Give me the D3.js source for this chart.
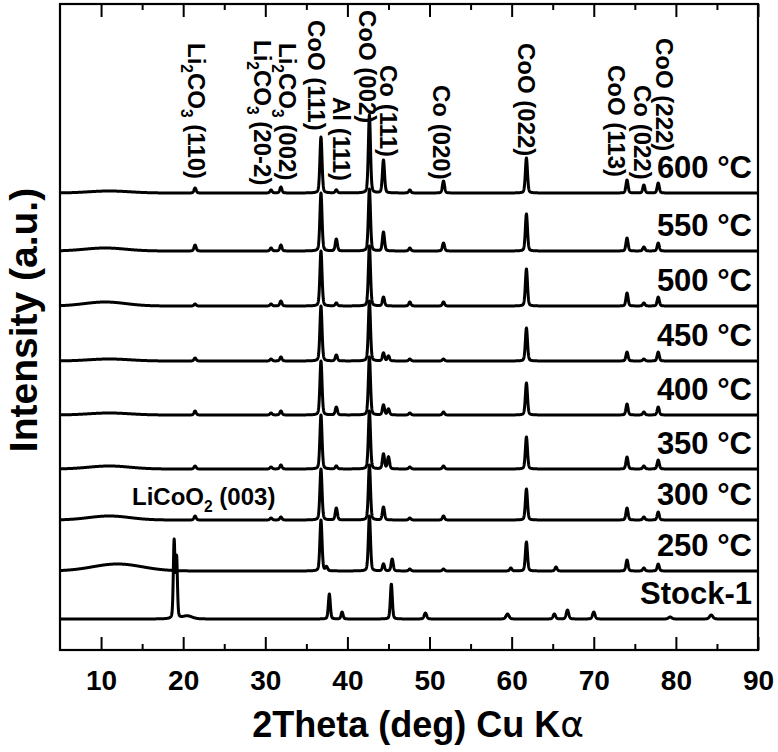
<!DOCTYPE html>
<html><head><meta charset="utf-8">
<script src="https://cdn.jsdelivr.net/npm/d3@7"></script>
<style>body{margin:0;background:#fff}svg{display:block}text{font-family:"Liberation Sans",Arial,sans-serif;font-weight:bold;fill:#000}</style>
</head><body><div id="chart"></div>
<script>
// ---------- data ----------
const samples = ["Stock-1","250 °C","300 °C","350 °C","400 °C","450 °C","500 °C","550 °C","600 °C"];
const offsets = [0,48,99,150,204,258,313,368,426];
const xTicks = [10,20,30,40,50,60,70,80,90];
const xMinorTicks = [15,25,35,45,55,65,75,85];

// Stock-1 peaks: [2theta, height, sigma]
const stockPeaks = [[18.9,77,0.1],[19.2,60,0.1],[20.5,3,0.6],[37.8,25,0.12],[39.35,7,0.12],[45.35,35,0.12],
  [49.5,6,0.15],[59.5,5,0.18],[65.2,5,0.15],[66.8,9,0.15],[70.0,7,0.15],[79.3,2,0.2],[84.3,4,0.2]];

// heated sample peak positions (2theta)
const heatedPositions = [21.45,30.7,31.9,36.78,37.45,38.65,42.68,44.39,45.0,45.45,47.6,51.7,59.9,61.8,65.4,74.05,76.1,77.85];
const heights250 = [0,0,0,51,4,0,55,7,0,12,2,2,3,29,4,11,3,7];
const heights300 = [4,2,3,51,0,12,55,13,0,0,2,4,0,31,0,12,3,8];
const heights350 = [3,2,4,54,0,3,58,15,12,0,2,3,0,32,0,12,3,9];
const heights400 = [4,2,4,54,0,8,58,10,6,0,2,3,0,32,0,11,3,8];
const heights450 = [3,2,4,55,0,6,60,8,5,0,2,2,0,33,0,9,2,9];
const heights500 = [2,2,5,55,0,3,60,9,0,0,4,4,0,37,0,13,3,9];
const heights550 = [6,3,6,58,0,12,62,19,0,0,3,8,0,37,0,13,4,8];
const heights600 = [5,3,6,56,0,3,78,33,0,0,3,12,0,35,0,13,8,10];
// broad amorphous hump [center, height, sigma]
const humps = [null,[12,7,3],[11,4,2.5],[11,3,2.5],[11,2,2.5],[11,2,2.5],[10.5,4,2.5],[10.5,3,2.5],[11,2,2.5]];

const annotations = [
  {text:["Li","2","CO","3"," (110)"], x:21.59, top:43},
  {text:["Li","2","CO","3"," (20-2)"], x:29.63, top:40},
  {text:["Li","2","CO","3"," (002)"], x:32.68, top:43},
  {text:["CoO (111)"], x:36.22, top:20},
  {text:["Al (111)"], x:39.27, top:97},
  {text:["CoO (002)"], x:42.44, top:10},
  {text:["Co (111)"], x:45.0, top:65},
  {text:["Co (020)"], x:51.46, top:85},
  {text:["CoO (022)"], x:61.83, top:43},
  {text:["CoO (113)"], x:72.8, top:65},
  {text:["Co (022)"], x:75.98, top:85},
  {text:["CoO (222)"], x:78.66, top:38}
];

// ---------- build ----------
const W = 778, H = 752;
const x = d3.scaleLinear().domain([5,90]).range([60,758]);
const y = d3.scaleLinear().domain([-31,615]).range([650,4]);

const heatedHeights = [heights250,heights300,heights350,heights400,heights450,heights500,heights550,heights600];
const peakSets = [stockPeaks].concat(heatedHeights.map(h => heatedPositions.map((p,i)=>[p,h[i],0.13]).filter(d=>d[1]>0)));

function profile(t, peaks, hump){
  let v = 0;
  for (const [p,h,s] of peaks){
    const d = t-p;
    const g = Math.exp(-d*d/(2*s*s));
    const gam = s*1.18;
    const l = 1/(1+(d/gam)*(d/gam));
    v += h*(0.72*g+0.28*l);
  }
  if (hump){ const d=t-hump[0]; v += hump[1]*Math.exp(-d*d/(2*hump[2]*hump[2])); }
  return v;
}
const grid = d3.range(5, 90.001, 0.02);

const svg = d3.select("#chart").append("svg").attr("width",W).attr("height",H);
svg.append("defs").append("clipPath").attr("id","clip")
  .append("rect").attr("x",60).attr("y",4).attr("width",698).attr("height",646);

const line = d3.line().x(d=>x(d[0])).y(d=>y(d[1]));
const g = svg.append("g").attr("clip-path","url(#clip)");
samples.forEach((s,i)=>{
  const pts = grid.map(t=>[t, offsets[i]+profile(t, peakSets[i], humps[i])]);
  g.append("path").attr("d",line(pts)).attr("fill","none").attr("stroke","#000")
    .attr("stroke-width",3).attr("stroke-linejoin","round");
});

// sample labels
samples.forEach((s,i)=>{
  svg.append("text").attr("x",752).attr("y",y(offsets[i])-15)
    .attr("text-anchor","end").attr("font-size",31).text(s);
});

// peak annotations (rotated)
annotations.forEach(a=>{
  const t = svg.append("text").attr("font-size",24)
    .attr("transform",`translate(${x(a.x)},${a.top}) rotate(90)`)
    .attr("dy","0.35em");
  if (a.text.length===1){ t.text(a.text[0]); }
  else {
    t.append("tspan").text(a.text[0]);
    t.append("tspan").attr("font-size","0.65em").attr("dy","0.45em").text(a.text[1]);
    t.append("tspan").attr("dy","-0.3em").text(a.text[2]);
    t.append("tspan").attr("font-size","0.65em").attr("dy","0.45em").text(a.text[3]);
    t.append("tspan").attr("dy","-0.3em").text(a.text[4]);
  }
});

// LiCoO2 label
const lc = svg.append("text").attr("x",132).attr("y",505).attr("font-size",24);
lc.append("tspan").text("LiCoO");
lc.append("tspan").attr("font-size","0.65em").attr("dy","0.45em").text("2");
lc.append("tspan").attr("dy","-0.3em").text(" (003)");

// axes
const bottom = d3.axisBottom(x).tickValues(xTicks).tickSize(-13).tickPadding(0).tickFormat(d3.format("d"));
const gb = svg.append("g").attr("transform","translate(0,650)").call(bottom);
gb.select(".domain").remove();
gb.selectAll("line").attr("stroke","#000").attr("stroke-width",2);
gb.selectAll("text").attr("y",40).attr("dy",0).attr("font-size",28).attr("font-family","Liberation Sans, Arial").attr("font-weight","bold");
svg.append("g").attr("transform","translate(0,650)")
  .call(d3.axisBottom(x).tickValues(xMinorTicks).tickSize(-6).tickFormat(""))
  .call(s=>{s.select(".domain").remove(); s.selectAll("line").attr("stroke","#000").attr("stroke-width",2);});
svg.append("g").attr("transform","translate(0,4)")
  .call(d3.axisTop(x).tickValues(xTicks).tickSize(-13).tickFormat(""))
  .call(s=>{s.select(".domain").remove(); s.selectAll("line").attr("stroke","#000").attr("stroke-width",2);});
svg.append("g").attr("transform","translate(0,4)")
  .call(d3.axisTop(x).tickValues(xMinorTicks).tickSize(-6).tickFormat(""))
  .call(s=>{s.select(".domain").remove(); s.selectAll("line").attr("stroke","#000").attr("stroke-width",2);});

svg.append("rect").attr("x",60).attr("y",4).attr("width",698).attr("height",646)
  .attr("fill","none").attr("stroke","#000").attr("stroke-width",2.2);

// axis titles
const xt = svg.append("text").attr("x",418).attr("y",737).attr("text-anchor","middle").attr("font-size",36);
xt.append("tspan").text("2Theta (deg) Cu K");
xt.append("tspan").attr("font-family","DejaVu Sans").attr("font-weight","normal").text("α");
svg.append("text").attr("transform","translate(37,320) rotate(-90)").attr("text-anchor","middle")
  .attr("font-size",39).text("Intensity (a.u.)");
</script></body></html>
